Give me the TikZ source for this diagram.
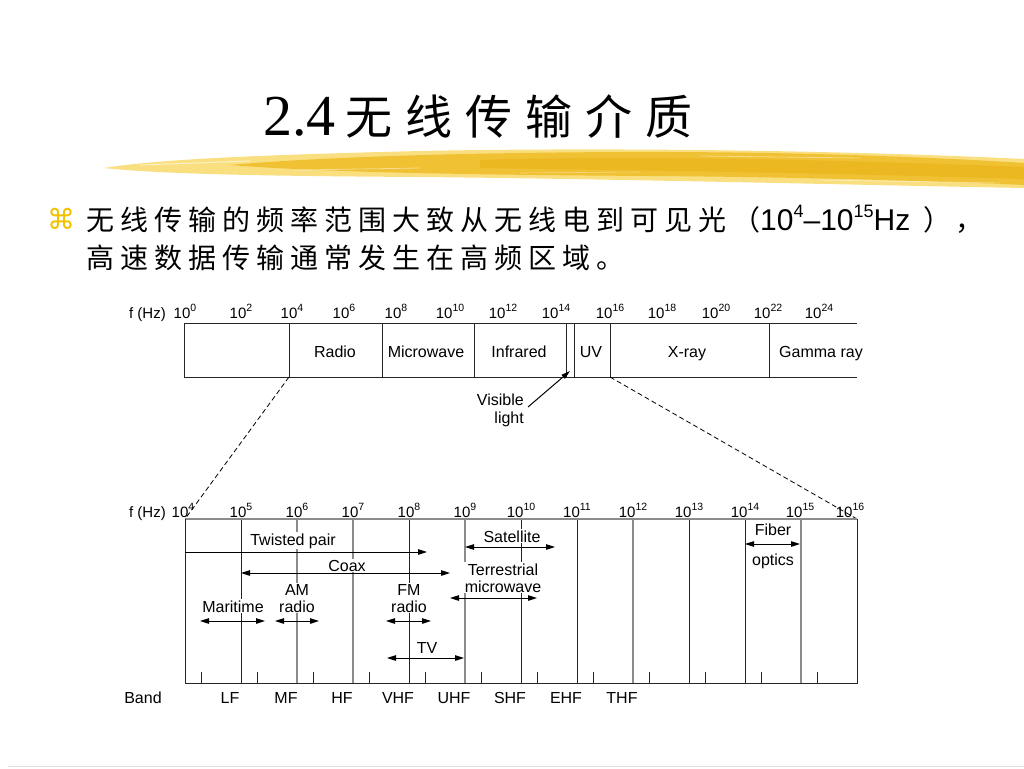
\documentclass[tikz,border=0pt]{standalone}
\usepackage{fontspec}
\setmainfont{Liberation Sans}
\newfontfamily\cjk{Noto Sans CJK SC}
\newfontfamily\serifrm{Liberation Serif}
\newfontfamily\symfont{DejaVu Sans}
\usetikzlibrary{arrows.meta}
\definecolor{brushA}{HTML}{F8DA6A}
\definecolor{brushB}{HTML}{F0BE2A}
\definecolor{brushC}{HTML}{E8AE10}
\definecolor{bulletyellow}{HTML}{F2C200}
\newcommand\tp[1]{10\raisebox{0.42em}{\fontsize{10.5}{10.5}\selectfont #1}}
\makeatletter
\def\spc@end{}
\newcommand\spc[2]{\def\spc@sep{#1}\spc@aux#2\spc@end}
\def\spc@aux#1{\ifx#1\spc@end\else#1\hspace{\spc@sep}\expandafter\spc@aux\fi}
\makeatother
\begin{document}
\begin{tikzpicture}[x=1pt,y=-1pt,
  lab/.style={font=\fontsize{16}{17}\selectfont, inner sep=0pt},
  wlab/.style={lab, fill=white, inner sep=1pt},
  exlab/.style={font=\fontsize{15}{15}\selectfont, inner sep=0pt, anchor=base},
  bar/.style={line width=1pt, black!85},
  gline/.style={line width=1.6pt, black!45},
  tipT/.tip={Triangle[length=9pt,width=5.5pt]},
  rng/.style={line width=1pt, tipT-tipT},
  rngr/.style={line width=1pt, -tipT},
  zoomline/.style={line width=0.8pt, dash pattern=on 5pt off 3pt}]
\useasboundingbox (0,0) rectangle (1024,768);
\fill[white] (0,0) rectangle (1024,768);

% brush stroke under title
\fill[brushA, opacity=0.85] (104,168) .. controls (160,159) and (260,155) .. (420,151) .. controls (620,147) and (860,151) .. (1024,159) -- (1024,188) .. controls (860,185) and (620,179) .. (420,177) .. controls (260,176) and (160,174) .. cycle;
\fill[brushB, opacity=0.9] (230,165) .. controls (330,156) and (500,152) .. (650,152) .. controls (800,152) and (930,157) .. (1024,163) -- (1024,185) .. controls (930,181) and (800,177) .. (650,176) .. controls (500,175) and (330,173) .. cycle;
\fill[brushC, opacity=0.45] (480,160) .. controls (600,156) and (800,158) .. (1024,167) -- (1024,179) .. controls (800,172) and (600,170) .. (480,168) -- cycle;
\draw[white, opacity=0.55, line width=1pt] (140,165) -- (250,161);
\draw[white, opacity=0.45, line width=0.8pt] (300,170) -- (420,168);
\draw[white, opacity=0.4, line width=0.8pt] (700,156) -- (860,158);
\draw[white, opacity=0.4, line width=0.8pt] (820,180) -- (1000,183);
\draw[white, opacity=0.35, line width=0.6pt] (520,173) -- (640,172);

% title
\node[anchor=base west, inner sep=0pt, font=\serifrm\fontsize{58}{58}\selectfont] (tnum) at (263,135) {2.4};
\node[anchor=base west, inner sep=0pt, font=\cjk\fontsize{47}{47}\selectfont] (tcn) at (345,134) {\spc{13pt}{无线传输介质}};

% bullet text
\node[inner sep=0pt, text=bulletyellow, font=\symfont\fontsize{28}{28}\selectfont] (bul) at (61,219) {⌘};
\node[anchor=base west, inner sep=0pt, font=\cjk\fontsize{28}{28}\selectfont] (bl1) at (86,230) {\spc{6pt}{无线传输的频率范围大致从无线电到可见光}（{\normalfont\fontsize{30}{30}\selectfont 10\raisebox{0.42em}{\fontsize{18}{18}\selectfont 4}–10\raisebox{0.42em}{\fontsize{18}{18}\selectfont 15}Hz}\hspace{13pt}）\hspace{4pt}，};
\node[anchor=base west, inner sep=0pt, font=\cjk\fontsize{28}{28}\selectfont] (bl2) at (86,268) {\spc{6pt}{高速数据传输通常发生在高频区域。}};

% ---------- upper spectrum bar ----------
\coordinate (u4) at (289,377);
\coordinate (u16) at (610,377);
\draw[bar] (857,323) -- (184,323) -- (184,377) -- (857,377);
\foreach \x in {289,382,474,566,574,610,769} \draw[bar] (\x,323) -- (\x,377);
\node[exlab, anchor=base east] (uf) at (166,318) {f (Hz)};
\foreach \x/\e in {185/0,241/2,292/4,344/6,396/8,450/10,503/12,556/14,610/16,662/18,716/20,768/22,819/24}
  \node[exlab] (ue\e) at (\x,318) {\tp{\e}};
\node[lab, anchor=base] (radio) at (335,357) {Radio};
\node[lab, anchor=base] (micro) at (426,357) {Microwave};
\node[lab, anchor=base] (infra) at (519,357) {Infrared};
\node[lab, anchor=base] (uv) at (591,357) {UV};
\node[lab, anchor=base] (xray) at (687,357) {X-ray};
\node[lab, anchor=base] (gamma) at (821,357) {Gamma ray};
\node[lab, align=right, anchor=base east, font=\fontsize{16}{18}\selectfont] (vis) at (524,423) {Visible\\light};
\coordinate (vlt) at (528,407);
\coordinate (vlh) at (570,371);
\draw[line width=1pt, -{Triangle[length=9pt,width=5pt]}] (vlt) -- (vlh);

% ---------- lower chart ----------
\coordinate (lTL) at (185,519);
\coordinate (lTR) at (857,519);
\draw[zoomline] (u4) -- (lTL);
\draw[zoomline] (u16) -- (lTR);
\foreach \x in {241,409,521,577,689,745} \draw[bar] (\x,519) -- (\x,683);
\foreach \x in {297,353,465,633,801} \draw[gline] (\x,519) -- (\x,683);
\draw[gline] (lTL) -- (lTR);
\draw[bar] (lTL) -- (185,683) -- (857,683) -- (lTR);
\foreach \i in {0,...,11} \draw[bar] ({185+(\i+0.3)*56},672) -- ({185+(\i+0.3)*56},683);

\node[exlab, anchor=base east] (lf) at (166,517) {f (Hz)};
\foreach \k/\x in {4/183,5/241,6/297,7/353,8/409,9/465,10/521,11/577,12/633,13/689,14/745,15/800,16/850}
  \node[exlab] (le\k) at (\x,517) {\tp{\k}};

\node[lab, anchor=base] (band) at (143,703) {Band};
\foreach \b [count=\i from 0] in {LF,MF,HF,VHF,UHF,SHF,EHF,THF}
  \node[lab, anchor=base] (band\b) at ({230+56*\i},703) {\b};

% labels (base anchor = baseline of the last line)
\node[wlab, anchor=base] (tw) at (293,545) {Twisted pair};
\node[wlab, anchor=base] (coax) at (347,571) {Coax};
\node[wlab, anchor=base] (mar) at (233,612) {Maritime};
\node[wlab, anchor=base, align=center] (am) at (297,612) {AM\\radio};
\node[wlab, anchor=base, align=center] (fm) at (409,612) {FM\\radio};
\node[wlab, anchor=base] (tv) at (427,653) {TV};
\node[wlab, anchor=base] (sat) at (512,542) {Satellite};
\node[wlab, anchor=base, align=center] (ter) at (503,592) {Terrestrial\\microwave};
\node[lab, anchor=base, align=center, font=\fontsize{16}{30}\selectfont] (fib) at (773,565) {Fiber\\optics};

% range arrows
\coordinate (twL) at (185,552); \coordinate (twR) at (427,552);
\coordinate (cxL) at (241,573); \coordinate (cxR) at (450,573);
\coordinate (mrL) at (200,621); \coordinate (mrR) at (265,621);
\coordinate (amL) at (275,621); \coordinate (amR) at (319,621);
\coordinate (fmL) at (386,621); \coordinate (fmR) at (431,621);
\coordinate (tvL) at (387,658); \coordinate (tvR) at (464,658);
\coordinate (stL) at (465,547); \coordinate (stR) at (555,547);
\coordinate (trL) at (450,598); \coordinate (trR) at (537,598);
\coordinate (fbL) at (745,544); \coordinate (fbR) at (800,544);
\draw[rngr] (twL) -- (twR);
\draw[rng] (cxL) -- (cxR);
\draw[rng] (mrL) -- (mrR);
\draw[rng] (amL) -- (amR);
\draw[rng] (fmL) -- (fmR);
\draw[rng] (tvL) -- (tvR);
\draw[rng] (stL) -- (stR);
\draw[rng] (trL) -- (trR);
\draw[rng] (fbL) -- (fbR);

\draw[black!12, line width=1pt] (8,766) -- (1024,766);
\end{tikzpicture}
\end{document}
